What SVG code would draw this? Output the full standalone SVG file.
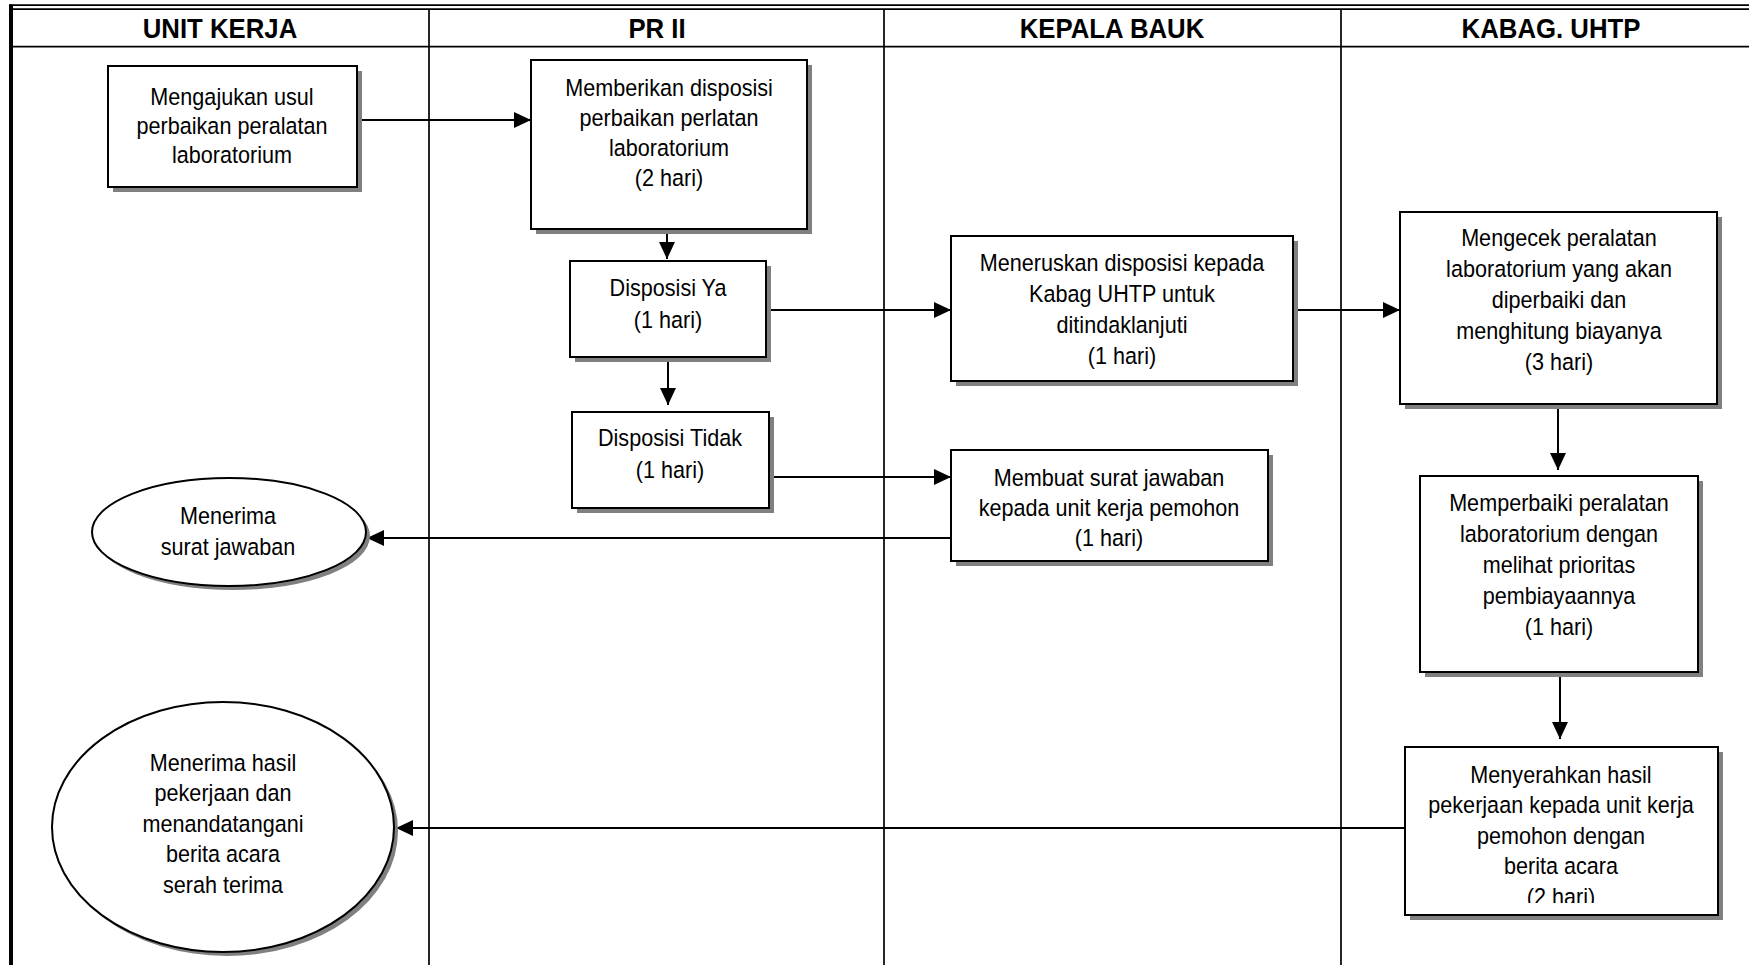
<svg xmlns="http://www.w3.org/2000/svg" width="1749" height="965" viewBox="0 0 1749 965">
  <style>
    .lane { stroke: #000; stroke-width: 1.7; fill: none; }
    .box { fill: #fff; stroke: #000; stroke-width: 2; }
    .shadow { fill: #808080; stroke: none; }
    .conn { stroke: #000; stroke-width: 2; fill: none; marker-end: url(#arrow); }
    .hdr { font-family: 'Liberation Sans', Arial, sans-serif; font-weight: bold; font-size: 28px; text-anchor: middle; fill: #000; }
    .lbl { font-family: 'Liberation Sans', Arial, sans-serif; font-size: 23.5px; text-anchor: middle; fill: #000; }
  </style>
  <defs>
    <marker id="arrow" markerUnits="userSpaceOnUse" markerWidth="18" markerHeight="16" refX="17" refY="8" orient="auto">
      <path d="M0,0 L17,8 L0,16 z" fill="#000"/>
    </marker>
    <clipPath id="clip-n9">
      <rect x="1405" y="747" width="313" height="156"/>
    </clipPath>
  </defs>

  <rect width="1749" height="965" fill="#fff"/>

  <!-- swimlane frame -->
  <g id="lanes">
    <line class="lane" x1="9" y1="5.2" x2="1749" y2="5.2"/>
    <line class="lane" x1="13" y1="9.2" x2="1749" y2="9.2"/>
    <line x1="11" y1="4.4" x2="11" y2="965" stroke="#000" stroke-width="4"/>
    <line class="lane" x1="11" y1="46.7" x2="1749" y2="46.7"/>
    <line class="lane" x1="429" y1="9" x2="429" y2="965"/>
    <line class="lane" x1="884" y1="9" x2="884" y2="965"/>
    <line class="lane" x1="1341" y1="9" x2="1341" y2="965"/>
    <text class="hdr" transform="translate(220,38) scale(0.92,1)">UNIT KERJA</text>
    <text class="hdr" transform="translate(657,38) scale(0.92,1)">PR II</text>
    <text class="hdr" transform="translate(1112,38) scale(0.92,1)">KEPALA BAUK</text>
    <text class="hdr" transform="translate(1551,38) scale(0.92,1)">KABAG. UHTP</text>
  </g>

  <!-- connectors -->
  <g id="connectors">
    <line class="conn" x1="357" y1="120" x2="531" y2="120"/>
    <line class="conn" x1="667" y1="229" x2="667" y2="259"/>
    <line class="conn" x1="668" y1="357" x2="668" y2="405"/>
    <line class="conn" x1="766" y1="310" x2="951" y2="310"/>
    <line class="conn" x1="771" y1="477" x2="951" y2="477"/>
    <line class="conn" x1="951" y1="538" x2="367" y2="538"/>
    <line class="conn" x1="1293" y1="310" x2="1400" y2="310"/>
    <line class="conn" x1="1558" y1="404" x2="1558" y2="470"/>
    <line class="conn" x1="1560" y1="672" x2="1560" y2="739"/>
    <line class="conn" x1="1405" y1="828" x2="396" y2="828"/>
  </g>

  <g id="n1">
    <rect class="shadow" x="113" y="71" width="249" height="121"/>
    <rect class="box" x="108" y="66" width="249" height="121"/>
    <text class="lbl" transform="translate(232,0) scale(0.92,1)" y="105">Mengajukan usul<tspan x="0" dy="29">perbaikan peralatan</tspan><tspan x="0" dy="29">laboratorium</tspan></text>
  </g>

  <g id="n2">
    <rect class="shadow" x="536" y="65" width="276" height="169"/>
    <rect class="box" x="531" y="60" width="276" height="169"/>
    <text class="lbl" transform="translate(669,0) scale(0.92,1)" y="96">Memberikan disposisi<tspan x="0" dy="30">perbaikan perlatan</tspan><tspan x="0" dy="30">laboratorium</tspan><tspan x="0" dy="30">(2 hari)</tspan></text>
  </g>

  <g id="n3">
    <rect class="shadow" x="575" y="266" width="196" height="96"/>
    <rect class="box" x="570" y="261" width="196" height="96"/>
    <text class="lbl" transform="translate(668,0) scale(0.92,1)" y="296">Disposisi Ya<tspan x="0" dy="32">(1 hari)</tspan></text>
  </g>

  <g id="n4">
    <rect class="shadow" x="577" y="417" width="197" height="96"/>
    <rect class="box" x="572" y="412" width="197" height="96"/>
    <text class="lbl" transform="translate(670,0) scale(0.92,1)" y="446">Disposisi Tidak<tspan x="0" dy="32">(1 hari)</tspan></text>
  </g>

  <g id="n5">
    <rect class="shadow" x="956" y="241" width="342" height="145"/>
    <rect class="box" x="951" y="236" width="342" height="145"/>
    <text class="lbl" transform="translate(1122,0) scale(0.92,1)" y="271">Meneruskan disposisi kepada<tspan x="0" dy="31">Kabag UHTP untuk</tspan><tspan x="0" dy="31">ditindaklanjuti</tspan><tspan x="0" dy="31">(1 hari)</tspan></text>
  </g>

  <g id="n6">
    <rect class="shadow" x="956" y="455" width="317" height="111"/>
    <rect class="box" x="951" y="450" width="317" height="111"/>
    <text class="lbl" transform="translate(1109,0) scale(0.92,1)" y="486">Membuat surat jawaban<tspan x="0" dy="30">kepada unit kerja pemohon</tspan><tspan x="0" dy="30">(1 hari)</tspan></text>
  </g>

  <g id="n7">
    <rect class="shadow" x="1405" y="217" width="317" height="192"/>
    <rect class="box" x="1400" y="212" width="317" height="192"/>
    <text class="lbl" transform="translate(1559,0) scale(0.92,1)" y="246">Mengecek peralatan<tspan x="0" dy="31">laboratorium yang akan</tspan><tspan x="0" dy="31">diperbaiki dan</tspan><tspan x="0" dy="31">menghitung biayanya</tspan><tspan x="0" dy="31">(3 hari)</tspan></text>
  </g>

  <g id="n8">
    <rect class="shadow" x="1425" y="481" width="278" height="196"/>
    <rect class="box" x="1420" y="476" width="278" height="196"/>
    <text class="lbl" transform="translate(1559,0) scale(0.92,1)" y="511">Memperbaiki peralatan<tspan x="0" dy="31">laboratorium dengan</tspan><tspan x="0" dy="31">melihat prioritas</tspan><tspan x="0" dy="31">pembiayaannya</tspan><tspan x="0" dy="31">(1 hari)</tspan></text>
  </g>

  <g id="n9">
    <rect class="shadow" x="1410" y="752" width="313" height="168"/>
    <rect class="box" x="1405" y="747" width="313" height="168"/>
    <g clip-path="url(#clip-n9)">
      <text class="lbl" transform="translate(1561,0) scale(0.92,1)" y="783">Menyerahkan hasil<tspan x="0" dy="30.5">pekerjaan kepada unit kerja</tspan><tspan x="0" dy="30.5">pemohon dengan</tspan><tspan x="0" dy="30.5">berita acara</tspan><tspan x="0" dy="30.5">(2 hari)</tspan></text>
    </g>
  </g>

  <g id="e1">
    <ellipse class="shadow" cx="233" cy="536" rx="137" ry="54"/>
    <ellipse class="box" cx="229" cy="532" rx="137" ry="54"/>
    <text class="lbl" transform="translate(228,0) scale(0.92,1)" y="524">Menerima<tspan x="0" dy="31">surat jawaban</tspan></text>
  </g>

  <g id="e2">
    <ellipse class="shadow" cx="227" cy="831" rx="171" ry="125"/>
    <ellipse class="box" cx="223" cy="827" rx="171" ry="125"/>
    <text class="lbl" transform="translate(223,0) scale(0.92,1)" y="771">Menerima hasil<tspan x="0" dy="30.5">pekerjaan dan</tspan><tspan x="0" dy="30.5">menandatangani</tspan><tspan x="0" dy="30.5">berita acara</tspan><tspan x="0" dy="30.5">serah terima</tspan></text>
  </g>
</svg>
